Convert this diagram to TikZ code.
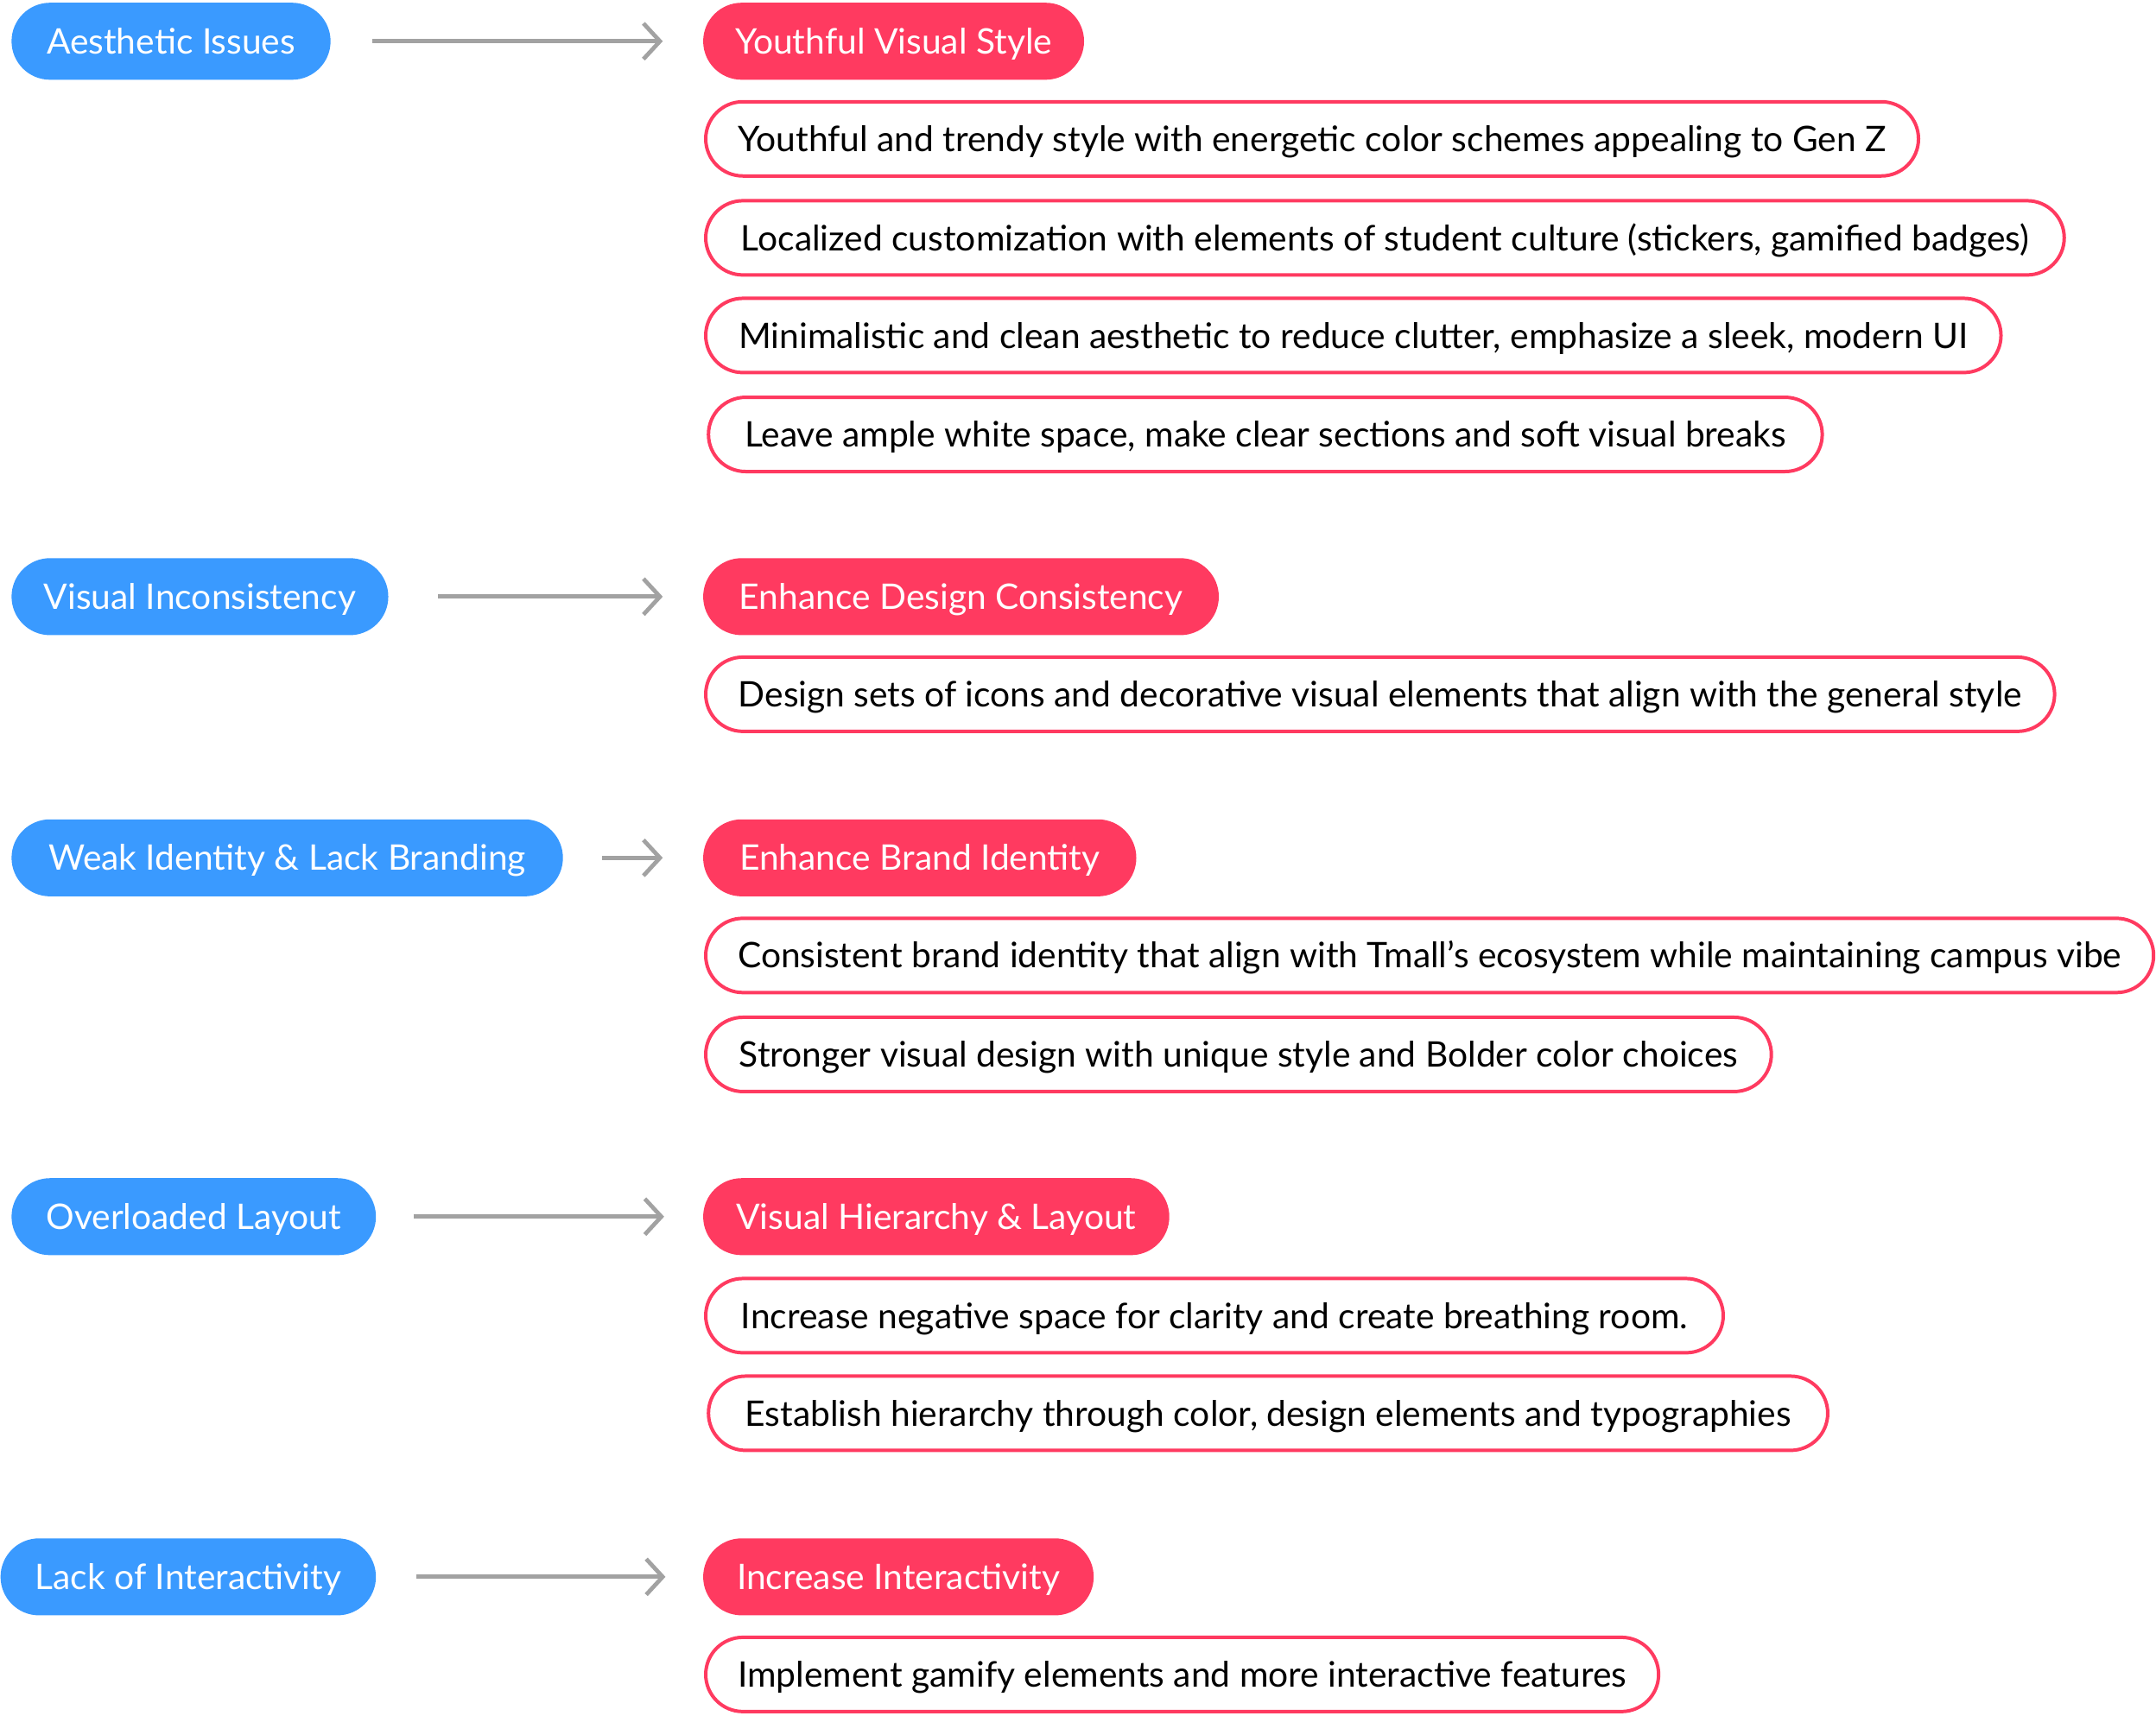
\documentclass[tikz,border=0pt]{standalone}
\usepackage{fontspec}
\setmainfont{Lato}
\usetikzlibrary{arrows.meta}
\definecolor{pblue}{RGB}{58,154,255}
\definecolor{pred}{RGB}{255,58,96}
\definecolor{agray}{RGB}{162,162,162}
\begin{document}
\begin{tikzpicture}[x=0.5pt,y=-0.5pt,
 pill/.style={rounded corners=14pt, minimum height=28pt, inner xsep=0pt, inner ysep=0pt, anchor=west, text height=10.5pt, text depth=1.3pt, font=\fontsize{12.8}{15}\selectfont},
 prob/.style={pill, fill=pblue, text=white},
 sol/.style={pill, fill=pred, text=white},
 item/.style={pill, rounded corners=13.5pt, minimum height=27pt, draw=pred, line width=1.25pt, fill=white, text=black},
 arr/.style={draw=agray, line width=1.5pt, -{Straight Barb[length=6pt,width=13pt,line width=1.5pt]}}]
\useasboundingbox (0,0) rectangle (1568,1248);
% row 1
\node[prob, minimum width=116pt] (b1) at (8,30) {Aesthetic Issues};
\node[sol, minimum width=138.5pt] (r1) at (511,30) {Youthful Visual Style};
\node[item, minimum width=441pt] (i11) at (512,101) {Youthful and trendy style with energetic color schemes appealing to Gen Z};
\node[item, minimum width=494pt] (i12) at (512,173) {Localized customization with elements of student culture (stickers, gamified badges)};
\node[item, minimum width=471pt] (i13) at (512,244) {Minimalistic and clean aesthetic to reduce clutter, emphasize a sleek, modern UI};
\node[item, minimum width=405pt] (i14) at (514,316) {Leave ample white space, make clear sections and soft visual breaks};
\draw[arr, shorten <=15pt, shorten >=14.5pt] (b1) -- (r1);
% row 2
\node[prob, minimum width=137pt] (b2) at (8,434) {Visual Inconsistency};
\node[sol, minimum width=187.5pt] (r2) at (511,434) {Enhance Design Consistency};
\node[item, minimum width=490.5pt] (i21) at (512,505) {Design sets of icons and decorative visual elements that align with the general style};
\draw[arr, shorten <=18pt, shorten >=14.5pt] (b2) -- (r2);
% row 3
\node[prob, minimum width=200.5pt] (b3) at (8,624) {Weak Identity \& Lack Branding};
\node[sol, minimum width=157.5pt] (r3) at (511,624) {Enhance Brand Identity};
\node[item, minimum width=526.5pt] (i31) at (512,695) {Consistent brand identity that align with Tmall’s ecosystem while maintaining campus vibe};
\node[item, minimum width=387.5pt] (i32) at (512,767) {Stronger visual design with unique style and Bolder color choices};
\draw[arr, shorten <=14pt, shorten >=14.5pt] (b3) -- (r3);
% row 4
\node[prob, minimum width=132.5pt] (b4) at (8,885) {Overloaded Layout};
\node[sol, minimum width=169.5pt] (r4) at (511,885) {Visual Hierarchy \& Layout};
\node[item, minimum width=370pt] (i41) at (512,957) {Increase negative space for clarity and create breathing room.};
\node[item, minimum width=407pt] (i42) at (514,1028) {Establish hierarchy through color, design elements and typographies};
\draw[arr, shorten <=13.5pt, shorten >=14pt] (b4) -- (r4);
% row 5
\node[prob, minimum width=136.5pt] (b5) at (0,1147) {Lack of Interactivity};
\node[sol, minimum width=142pt] (r5) at (511,1147) {Increase Interactivity};
\node[item, minimum width=346.5pt] (i51) at (512,1218) {Implement gamify elements and more interactive features};
\draw[arr, shorten <=14.5pt, shorten >=13.5pt] (b5) -- (r5);
\end{tikzpicture}
\end{document}
